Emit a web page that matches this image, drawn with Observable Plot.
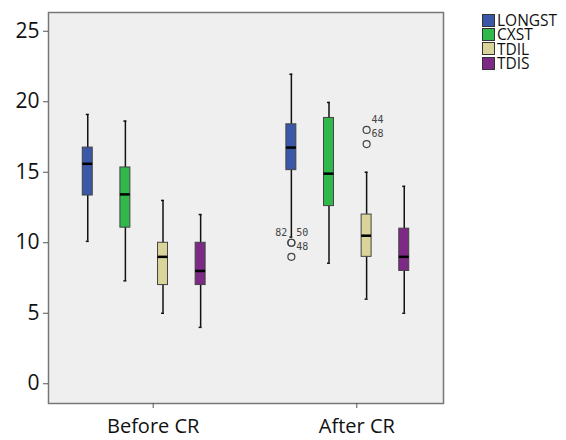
<!DOCTYPE html>
<html>
<head>
<meta charset="utf-8">
<script src="https://cdn.jsdelivr.net/npm/d3@7"></script>
<script src="https://cdn.jsdelivr.net/npm/@observablehq/plot@0.6"></script>
<style>
  html, body { margin: 0; padding: 0; background: #fff; }
  #wrap { position: relative; width: 566px; height: 440px; }
  #legend { position: absolute; left: 482px; top: 13px; font-family: "Open Sans", sans-serif; font-size: 15.5px; color: #111; }
  #legend .row { display: flex; align-items: center; height: 14.3px; }
  #legend .sw { width: 11px; height: 11px; border: 1px solid #333; margin-right: 2px; box-sizing: content-box; flex: none; }
  #legend .lab { line-height: 14.3px; }
</style>
</head>
<body>
<div id="wrap"><div id="legend"></div></div>
<script>
// ---- data ----
const groups = ["Before CR", "After CR"];
const series = ["LONGST", "CXST", "TDIL", "TDIS"];
const colors = ["#3b57a8", "#30b84b", "#d8d49a", "#7d2a86"];
// per group: values for LONGST, CXST, TDIL, TDIS
const whiskerLow  = [[10.1, 7.3, 5, 4],        [10.4, 8.55, 6, 5]];
const q1          = [[13.35, 11.07, 7, 7],     [15.15, 12.6, 9, 8]];
const median      = [[15.6, 13.43, 9, 8],      [16.75, 14.9, 10.5, 9]];
const q3          = [[16.75, 15.34, 10, 10],   [18.4, 18.85, 12, 11]];
const whiskerHigh = [[19.1, 18.63, 13, 12],    [21.95, 19.95, 15, 14]];
// outliers
const outlierGroup  = ["After CR", "After CR", "After CR", "After CR", "After CR"];
const outlierSeries = ["LONGST", "LONGST", "LONGST", "TDIL", "TDIL"];
const outlierValue  = [10, 10, 9, 18, 17];
const outlierLabel  = ["50", "82", "48", "44", "68"];
const yTicks = [0, 5, 10, 15, 20, 25];

// ---- tables ----
const boxes = [];
groups.forEach((g, gi) => series.forEach((s, si) => boxes.push({
  group: g, series: s,
  low: whiskerLow[gi][si], q1: q1[gi][si], med: median[gi][si],
  q3: q3[gi][si], high: whiskerHigh[gi][si]
})));
const outliers = outlierValue.map((v, i) => {
  const dup = outlierValue.slice(0, i).some((w, j) =>
    w === v && outlierGroup[j] === outlierGroup[i] && outlierSeries[j] === outlierSeries[i]);
  return {group: outlierGroup[i], series: outlierSeries[i], value: v, label: outlierLabel[i], dup};
});

const plot = Plot.plot({
  width: 566,
  height: 440,
  marginLeft: 48,
  marginRight: 123,
  marginTop: 12,
  marginBottom: 37,
  style: {fontFamily: "'Open Sans', sans-serif", fontSize: "21px", color: "#111", background: "transparent"},
  fx: {domain: groups, paddingInner: 0.06, paddingOuter: 0, round: false, label: null},
  x: {type: "band", domain: series, paddingInner: 0.735, paddingOuter: 0.911, round: false, axis: null},
  y: {domain: [-1.4, 26.33], label: null},
  color: {domain: series, range: colors},
  marks: [
    Plot.frame({facet: "super", fill: "#efefef", stroke: "#777", strokeWidth: 1.5}),
    Plot.axisY({ticks: yTicks, tickSize: 5, tickPadding: 4, fontSize: 21, label: null, stroke: "#555"}),
    Plot.axisFx({anchor: "bottom", tickSize: 5, tickPadding: 10, fontSize: 20, dx: 9, label: null, stroke: "#555"}),
    Plot.ruleX(boxes, {fx: "group", x: "series", y1: "low", y2: "high", stroke: "#111", strokeWidth: 1.5}),
    Plot.tickY(boxes, {fx: "group", x: "series", y: "low", stroke: "#111", strokeWidth: 1.5, insetLeft: 3.5, insetRight: 3.5}),
    Plot.tickY(boxes, {fx: "group", x: "series", y: "high", stroke: "#111", strokeWidth: 1.5, insetLeft: 3.5, insetRight: 3.5}),
    Plot.barY(boxes, {fx: "group", x: "series", y1: "q1", y2: "q3", fill: "series", stroke: "#444", strokeWidth: 1}),
    Plot.tickY(boxes, {fx: "group", x: "series", y: "med", stroke: "#000", strokeWidth: 2.5}),
    Plot.dot(outliers, {fx: "group", x: "series", y: "value", r: 3.5, stroke: "#444", strokeWidth: 1.2, fill: "none"}),
    Plot.text(outliers.filter(d => !d.dup), {fx: "group", x: "series", y: "value", text: "label", dx: 11, dy: -10,
      fontSize: 10, fill: "#444", fontFamily: "'DejaVu Sans Mono', monospace"}),
    Plot.text(outliers.filter(d => d.dup), {fx: "group", x: "series", y: "value", text: "label", dx: -10, dy: -10,
      fontSize: 10, fill: "#444", fontFamily: "'DejaVu Sans Mono', monospace"})
  ]
});
document.getElementById("wrap").prepend(plot);

const legend = d3.select("#legend");
series.forEach((s, i) => {
  const row = legend.append("div").attr("class", "row");
  row.append("div").attr("class", "sw").style("background", colors[i]);
  row.append("div").attr("class", "lab").text(s);
});
</script>
</body>
</html>
